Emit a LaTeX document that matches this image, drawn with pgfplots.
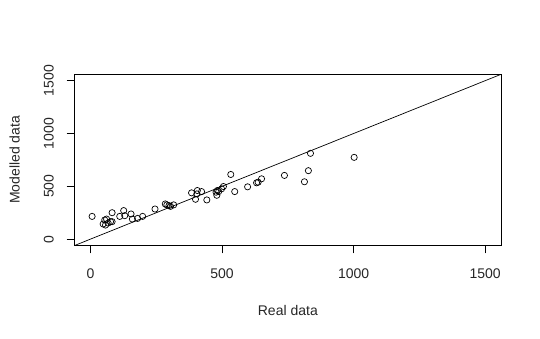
\documentclass[border=0pt]{standalone}
\usepackage{fontspec}
\setmainfont{Liberation Sans}
\usepackage{pgfplots}
\pgfplotsset{compat=1.18}
\pgfplotstableread{
x y
6 215
48 143
54 181
61 190
57 133
67 152
76 165
82 165
82 250
111 215
126 270
130 222
154 238
159 190
179 196
198 215
245 285
284 333
290 324
298 317
304 310
316 324
384 438
399 377
406 460
404 428
422 450
442 371
477 444
482 460
487 450
480 415
498 476
505 498
533 612
548 450
597 495
631 533
637 539
650 571
737 603
813 543
828 648
836 812
1002 774
}\pts
\begin{document}
\begin{tikzpicture}
\begin{axis}[
  scale only axis, width=426pt, height=171pt,
  xmin=-60, xmax=1560, ymin=-60, ymax=1560,
  axis line style={line width=0.8pt},
  xtick={0,500,1000,1500}, ytick={0,500,1000,1500},
  tick align=outside, xtick pos=bottom, ytick pos=left,
  major tick length=8pt,
  tick style={black, line width=0.8pt},
  /pgf/number format/assume math mode=true,
  /pgf/number format/1000 sep={},
  ticklabel style={font=\fontsize{14}{16}\selectfont, text=black!85},
  xticklabel style={anchor=center, yshift=-20pt},
  yticklabel style={rotate=90, anchor=center, yshift=18pt},
  xlabel={Real data}, ylabel={Modelled data},
  label style={font=\fontsize{14}{16}\selectfont, text=black!85},
  xlabel style={at={(axis description cs:0.5,0)}, anchor=center, yshift=-65pt},
  ylabel style={at={(axis description cs:0,0.5)}, anchor=center, rotate=0, yshift=60pt},
]
\addplot[black, line width=0.7pt] coordinates {(-60,-60) (1560,1560)};
\addplot[only marks, mark=o, mark size=3.1pt, mark options={black, line width=0.7pt}] table[x=x,y=y] {\pts};
\coordinate (sw) at (rel axis cs:0,0);
\coordinate (ne) at (rel axis cs:1,1);
\end{axis}
\path ([shift={(-74.7pt,-93pt)}]sw) rectangle ([shift={(39pt,74.3pt)}]ne);
\end{tikzpicture}
\end{document}
